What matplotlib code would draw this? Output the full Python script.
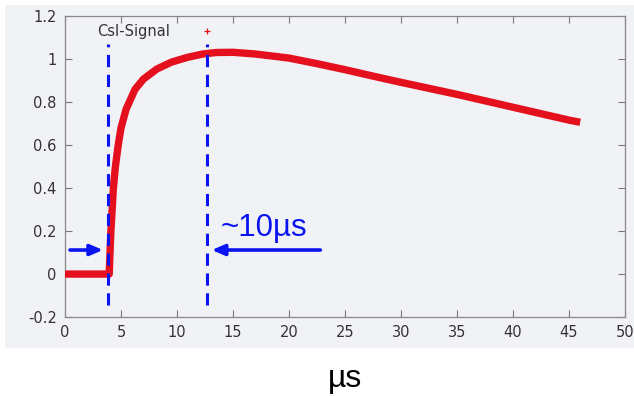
import matplotlib.pyplot as plt
from matplotlib.patches import Rectangle

# ── DATA ─────────────────────────────────────────────────────────────────────
t_us = [0, 1, 2, 3, 3.95, 4.02, 4.1, 4.32, 4.5, 4.75, 5.0, 5.45, 6.25, 7.0,
        8.2, 9.5, 10.9, 12.3, 13.5, 15, 17, 20, 22.5, 25, 27.5, 30, 32.5,
        35, 37.5, 40, 42.5, 45, 46]
signal = [0.0, 0.0, 0.0, 0.0, 0.0, 0.1, 0.2, 0.4, 0.5, 0.6, 0.68, 0.767,
          0.86, 0.908, 0.955, 0.987, 1.009, 1.025, 1.032, 1.033, 1.025,
          1.006, 0.98, 0.952, 0.922, 0.893, 0.865, 0.837, 0.807, 0.777,
          0.747, 0.717, 0.707]

marker_x = [3.84, 12.68]        # dashed markers: start and peak
x_ticks = [0, 5, 10, 15, 20, 25, 30, 35, 40, 45, 50]
y_ticks = [-0.2, 0, 0.2, 0.4, 0.6, 0.8, 1, 1.2]
y_labels = ["-0.2", "0", "0.2", "0.4", "0.6", "0.8", "1", "1.2"]

BG = "#f1f2f6"
RED = "#e5101e"
BLUE = "#0a14f0"

fig = plt.figure(figsize=(6.34, 3.96), dpi=100)
fig.patches.append(Rectangle((0.0079, 0.1212), 0.995, 0.866, transform=fig.transFigure,
                             facecolor=BG, edgecolor="none", zorder=-10))

ax = fig.add_axes([0.1025, 0.1995, 0.8833, 0.759])
ax.set_zorder(5)
ax.set_facecolor(BG)
ax.plot(t_us, signal, color=RED, lw=5.3, solid_capstyle="butt",
        solid_joinstyle="round", zorder=3)

ax.set_xlim(0, 50)
ax.set_ylim(-0.2, 1.2)
ax.set_xticks(x_ticks)
ax.set_yticks(y_ticks)
ax.set_yticklabels(y_labels)
ax.tick_params(direction="in", length=5, width=0.8, color="#777777",
               labelsize=10.5, labelcolor="#333333", top=True, right=True,
               labeltop=False, labelright=False, pad=6)
for s in ax.spines.values():
    s.set_color("#888888")
    s.set_linewidth(0.9)

# gnuplot-style key
ax.text(0.057, 0.951, "CsI-Signal", transform=ax.transAxes, fontsize=10.5,
        color="#333333", ha="left", va="center")
ax.plot([0.254], [0.951], marker="+", color=RED, ms=5, mew=0.9,
        transform=ax.transAxes)

# annotations
for xm in marker_x:
    ax.plot([xm, xm], [-0.145, 1.07], color=BLUE, lw=2.2, ls=(0, (4, 2.5)),
            clip_on=False, zorder=4)
arrow = dict(arrowstyle="-|>,head_length=0.75,head_width=0.32",
             color=BLUE, lw=2.6, shrinkA=0, shrinkB=0)
ax.annotate("", xy=(3.4, 0.112), xytext=(0.45, 0.112),
            arrowprops=arrow, annotation_clip=False)
ax.annotate("", xy=(13.1, 0.112), xytext=(22.8, 0.112),
            arrowprops=arrow, annotation_clip=False)
ax.text(13.9, 0.175, "~10µs", color=BLUE, fontsize=22.5,
        family="Liberation Sans", ha="left", va="baseline")

fig.text(0.544, 0.0235, "µs", fontsize=23, family="Liberation Sans",
         ha="center", va="baseline", color="black")

plt.savefig("out.png", dpi=100)
